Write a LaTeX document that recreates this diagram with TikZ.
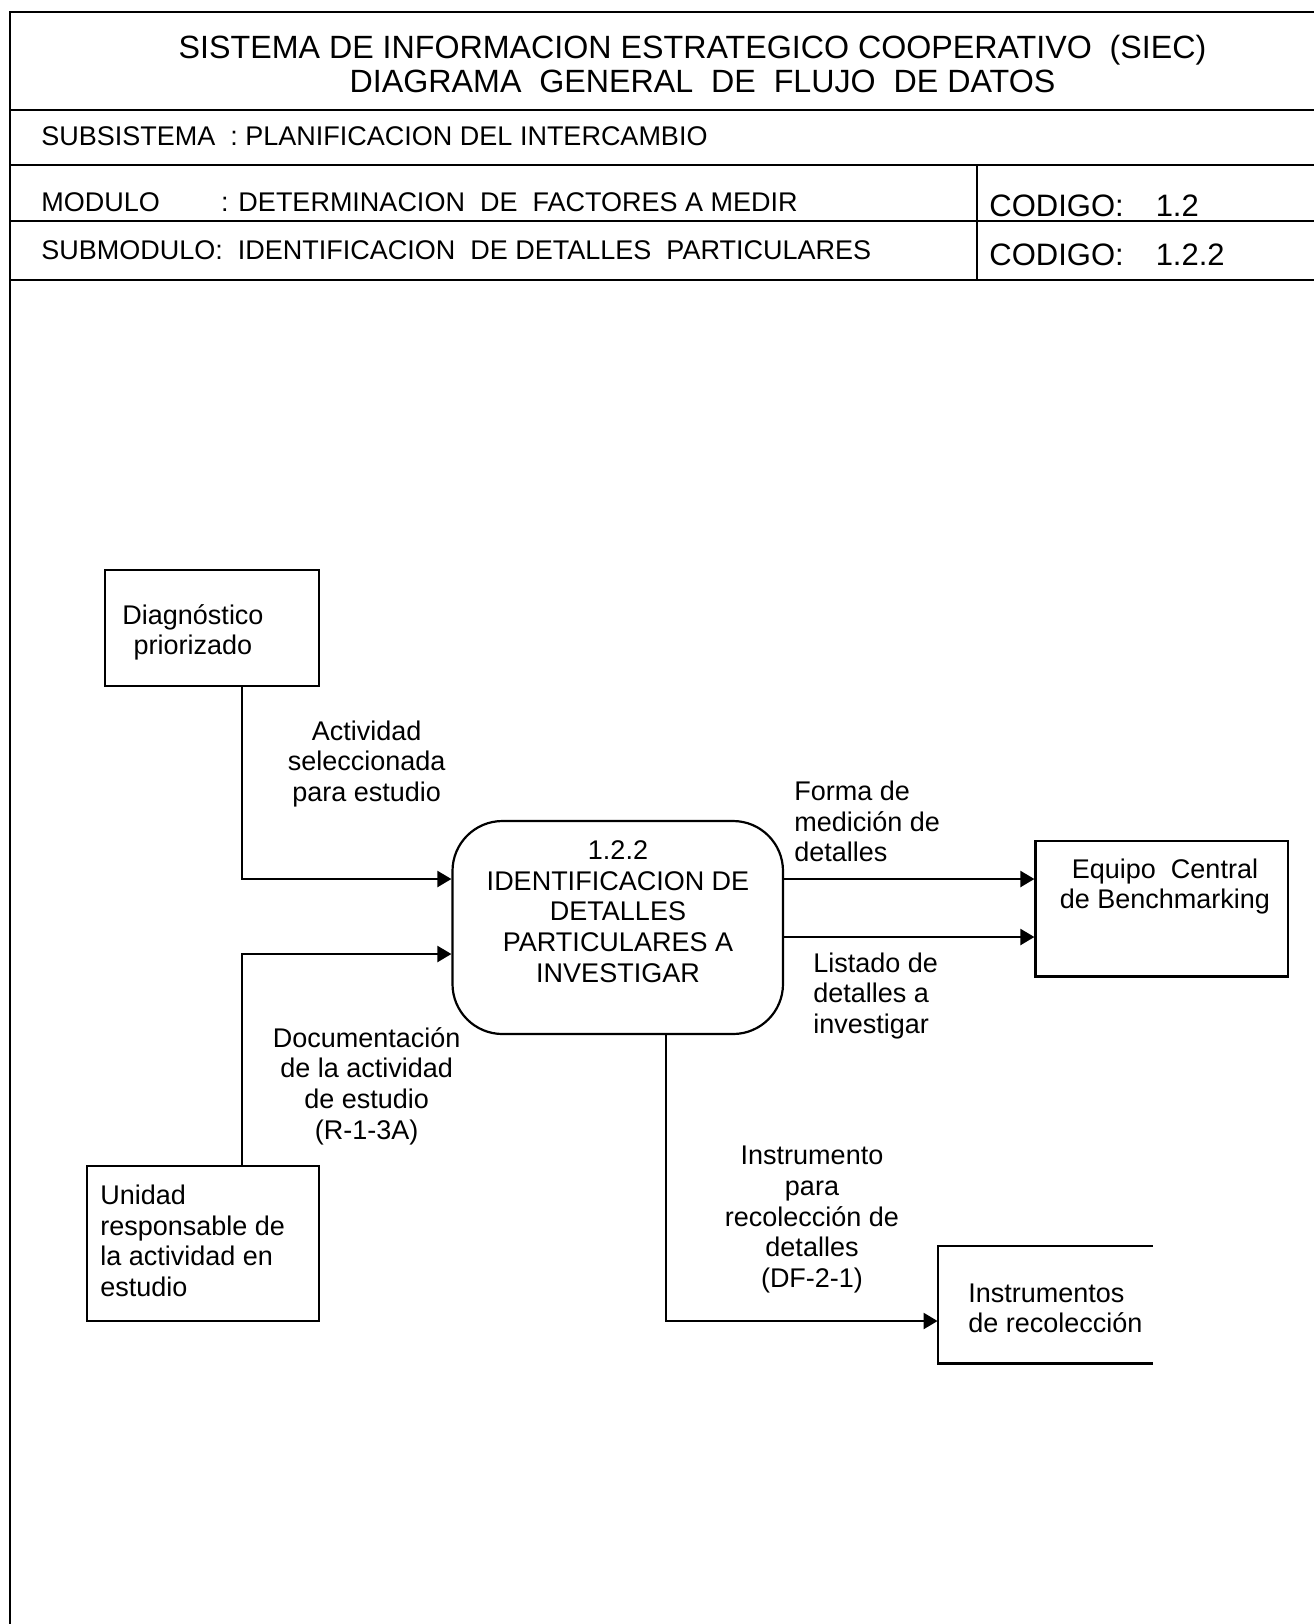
\documentclass[tikz,border=0pt]{standalone}
\usepackage{fontspec}
\setmainfont{Liberation Sans}
\usetikzlibrary{arrows.meta}
\begin{document}
\begin{tikzpicture}[x=0.5pt,y=-0.5pt,
  frame/.style={line width=1.4pt},
  box/.style={draw,line width=1.1pt,inner sep=0pt},
  txt/.style={font=\fontsize{13.5}{15.3}\selectfont,align=center,inner sep=0pt},
  head/.style={font=\fontsize{13.5}{15.3}\selectfont,inner sep=0pt,anchor=base west},
  code/.style={font=\fontsize{15.5}{18}\selectfont,inner sep=0pt,anchor=base west},
  title/.style={font=\fontsize{16.1}{19}\selectfont,inner sep=0pt,anchor=base},
  flow/.style={line width=1.1pt,-{Triangle[length=7pt,width=8pt]}}]
\useasboundingbox[fill=white] (0,0) rectangle (1314,1624);

% title block frame
\draw[frame] (10,1624) -- (10,12) -- (1314,12);
\draw[frame] (10,110) -- (1314,110);
\draw[frame] (10,165) -- (1314,165);
\draw[frame] (10,221) -- (1314,221);
\draw[frame] (10,280) -- (1314,280);
\draw[frame] (977,165) -- (977,280);

% title block texts
\node[title] (t1) at (692.5,58) {SISTEMA DE INFORMACION ESTRATEGICO COOPERATIVO~ (SIEC)};
\node[title] (t2) at (702.5,92.3) {DIAGRAMA~ GENERAL~ DE~ FLUJO~ DE DATOS};
\node[head] (sub) at (41,145) {SUBSISTEMA~ : PLANIFICACION DEL INTERCAMBIO};
\node[head] (modk) at (41,211.5) {MODULO};
\node[head] (modv) at (220.6,211.5) {: DETERMINACION~ DE~ FACTORES A MEDIR};
\node[head] (smod) at (41,259.5) {SUBMODULO:~ IDENTIFICACION~ DE DETALLES~ PARTICULARES};
\node[code] (c1) at (989,216.5) {CODIGO:\hspace{16pt}1.2};
\node[code] (c2) at (989,265.5) {CODIGO:\hspace{16pt}1.2.2};

% entities and process
\node[box,minimum width=107pt,minimum height=58pt] (diag) at (212,628) {};
\node[box,minimum width=116pt,minimum height=77.5pt] (unidad) at (203,1243.5) {};
\node[box,rounded corners=25pt,minimum width=165.25pt,minimum height=106.5pt] (proc) at (617.75,927.5) {};
\node[box,minimum width=126.25pt,minimum height=67.75pt] (equipo) at (1161.75,908.75) {};
\node[inner sep=0pt,minimum width=107.25pt,minimum height=58.5pt] (instr) at (1045.25,1304.5) {};
\draw[line width=1.1pt] (instr.north east) -- (instr.north west) -- (instr.south west) -- (instr.south east);

\node[txt] (diagt) at (193,632.5) {Diagnóstico\\priorizado};
\node[txt,align=left,anchor=west] (unidadt) at (100,1241) {Unidad\\responsable de\\la actividad en\\estudio};
\node[txt] (proct) at (618,911.5) {1.2.2\\IDENTIFICACION DE\\DETALLES\\PARTICULARES A\\INVESTIGAR};
\node[txt] (equipot) at (1165,886.5) {Equipo~ Central\\de Benchmarking};
\node[txt,align=left,anchor=west] (instrt) at (968,1308.5) {Instrumentos\\de recolección};

% data flows
\draw[flow] (diag.south -| 242,0) |- (proc.west |- 0,879);
\draw[flow] (unidad.north -| 242,0) |- (proc.west |- 0,954);
\draw[flow] (proc.east |- 0,879) -- (equipo.west |- 0,879);
\draw[flow] (proc.east |- 0,937) -- (equipo.west |- 0,937);
\draw[flow] (proc.south -| 666,0) |- (instr.west |- 0,1321);

% flow labels
\node[txt] (f1) at (366.7,764) {Actividad\\seleccionada\\para estudio};
\node[txt] (f2) at (366.6,1086) {Documentación\\de la actividad\\de estudio\\(R-1-3A)};
\node[txt,align=left,anchor=west] (f3) at (794,821.7) {Forma de\\medición de\\detalles};
\node[txt,align=left,anchor=west] (f4) at (813,995.7) {Listado de\\detalles a\\investigar};
\node[txt] (f5) at (812,1219.5) {Instrumento\\para\\recolección de\\detalles\\(DF-2-1)};
\end{tikzpicture}
\end{document}
